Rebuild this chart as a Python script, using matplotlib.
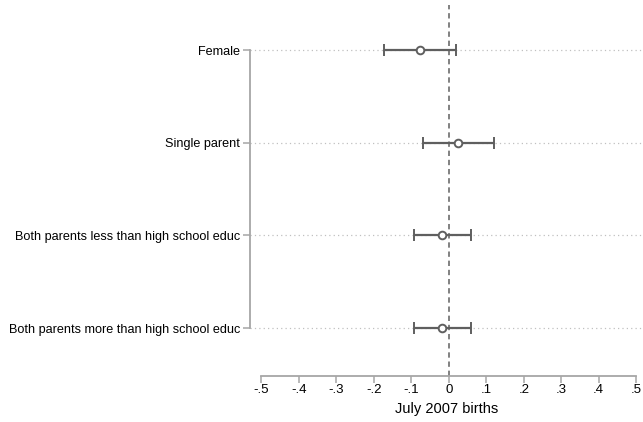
import matplotlib
matplotlib.use("Agg")
import matplotlib.pyplot as plt

# Coefficient estimates with 95% confidence intervals
labels = ["Female", "Single parent", "Both parents less than high school educ",
          "Both parents more than high school educ"]
coef = [-0.078, 0.025, -0.017, -0.017]
ci_low = [-0.172, -0.070, -0.094, -0.094]
ci_high = [0.020, 0.120, 0.060, 0.060]
xticks = [-0.5, -0.4, -0.3, -0.2, -0.1, 0.0, 0.1, 0.2, 0.3, 0.4, 0.5]
xtick_labels = ["-.5", "-.4", "-.3", "-.2", "-.1", "0", ".1", ".2", ".3", ".4", ".5"]
xlabel = "July 2007 births"

plt.rcParams["font.family"] = ["Liberation Sans", "DejaVu Sans"]

fig = plt.figure(figsize=(6.43, 4.22), dpi=100)
ax = fig.add_axes([250 / 643, 1 - 376 / 422, 1 - 250 / 643, 371 / 422])

axis_col = "#a6a6a6"
mark_col = "#5f5f5f"

for s in ["top", "right"]:
    ax.spines[s].set_visible(False)
ax.spines["left"].set_position(("data", -0.53))

pos = list(range(1, len(labels) + 1))

# dotted guide lines for each coefficient
for p in pos:
    ax.axhline(p, color="#c0c0c0", lw=0.9, ls=(0, (1, 2.5)), zorder=1)

# reference line at zero
ax.axvline(0, color=mark_col, lw=1.1, ls=(0, (3.5, 2.5)), zorder=2)

lo_err = [c - l for c, l in zip(coef, ci_low)]
hi_err = [h - c for c, h in zip(coef, ci_high)]
ax.errorbar(coef, pos, xerr=[lo_err, hi_err], fmt="o", color=mark_col,
            mfc="white", mec=mark_col, ms=5.5, mew=1.4, elinewidth=1.6,
            capsize=4, capthick=1.6, zorder=3)

ax.set_xlim(-0.53, 0.518)
ax.set_ylim(4.518, 0.514)

ax.set_yticks(pos)
ax.set_yticklabels(labels)
ax.set_xticks(xticks)
ax.set_xticklabels(xtick_labels)
ax.set_xlabel(xlabel, fontsize=10.5, labelpad=4)

ax.spines["left"].set_bounds(1, 4)
ax.spines["bottom"].set_bounds(-0.5, 0.5)
for s in ["left", "bottom"]:
    ax.spines[s].set_color(axis_col)
    ax.spines[s].set_linewidth(1.3)
ax.tick_params(axis="both", color=axis_col, width=1.1, length=5)
ax.tick_params(axis="y", labelsize=9.05, pad=2)
ax.tick_params(axis="x", labelsize=9.5, pad=1)

fig.savefig("out.png", dpi=100)
